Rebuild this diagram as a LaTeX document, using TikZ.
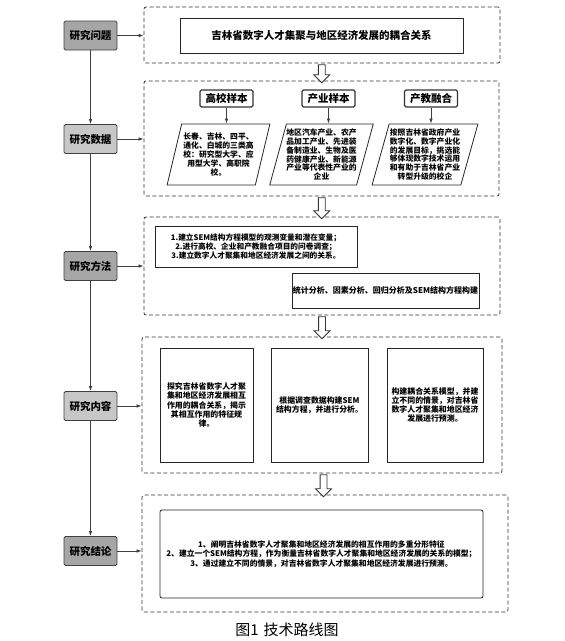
\documentclass[tikz,border=0pt]{standalone}
\usepackage{fontspec}
\setmainfont{Noto Sans CJK SC}
\usetikzlibrary{shapes.geometric,shapes.arrows,calc,arrows.meta}

\tikzset{
  stage/.style={rectangle, draw=black!75, line width=0.8pt, rounded corners=1.5pt, minimum width=53pt, minimum height=29pt, inner sep=0pt, font=\bfseries\fontsize{10.5}{12}\selectfont},
  stagedark/.style={stage, fill=black!35},
  stagelight/.style={stage, fill=black!22},
  group/.style={rectangle, draw=black!80, line width=0.8pt, dash pattern=on 4pt off 2.5pt, rounded corners=2pt},
  flow/.style={-{Latex[length=5pt,width=3.5pt]}, draw=black!75, line width=0.7pt},
  header/.style={rectangle, draw=black!80, line width=1.1pt, rounded corners=1.5pt, minimum width=53pt, minimum height=17pt, inner sep=0pt, font=\bfseries\fontsize{10.5}{12}\selectfont},
  sample/.style={trapezium, trapezium left angle=72, trapezium right angle=108, trapezium stretches=true, draw=black!85, line width=0.8pt, minimum height=61pt, align=center, inner sep=0pt, font=\bfseries\fontsize{7.8}{8.8}\selectfont},
  textbox/.style={rectangle, draw=black!85, line width=0.8pt, align=center, inner sep=0pt, font=\bfseries\fontsize{7.9}{9.2}\selectfont},
  hollow/.style={single arrow, draw=black!80, fill=white, line width=0.8pt, shape border rotate=270, inner sep=3pt, single arrow head extend=4.5pt, minimum width=15pt},
}

\begin{document}
\begin{tikzpicture}[x=1pt,y=-1pt]
\useasboundingbox (0,0) rectangle (565,641);

\node[stagedark] (s1) at (90.5,35.5) {研究问题};
\node[stagelight] (s2) at (90.5,139) {研究数据};
\node[stagedark] (s3) at (90.5,266) {研究方法};
\node[stagelight] (s4) at (90.5,406) {研究内容};
\node[stagedark] (s5) at (90.5,551) {研究结论};

\node[group, minimum width=356pt, minimum height=56pt] (g1) at (322,35) {};
\node[group, minimum width=355pt, minimum height=115pt] (g2) at (321.5,138.5) {};
\node[group, minimum width=356pt, minimum height=98pt] (g3) at (322,266) {};
\node[group, minimum width=360pt, minimum height=136pt] (g4) at (322,405) {};
\node[group, minimum width=366pt, minimum height=117pt] (g5) at (325,553.5) {};

\foreach \a/\b in {s1/s2,s2/s3,s3/s4,s4/s5}
  \draw[flow] (\a) -- (\b);
\foreach \i in {1,...,5}
  \draw[flow] (s\i.east) -- (s\i.east -| g\i.west);

\node[hollow, minimum height=18pt] (h1) at ($(g1.south)!.5!(g2.north)$) {};
\node[hollow, minimum height=21pt] (h2) at ($(g2.south)!.5!(g3.north)$) {};
\node[hollow, minimum height=22pt] (h3) at ($(g3.south)!.5!(g4.north)$) {};
\node[hollow, minimum height=22pt] (h4) at ($(g4.south)!.5!(g5.north)$) {};

\node[textbox, minimum width=283pt, minimum height=35pt, font=\bfseries\fontsize{10.5}{12}\selectfont] (topic) at (321.5,35.5) {吉林省数字人才集聚与地区经济发展的耦合关系};

\node[header] (hdA) at (226.5,98.5) {高校样本};
\node[header] (hdB) at (328.5,98.5) {产业样本};
\node[header] (hdC) at (431,98.5) {产教融合};
\node[sample, minimum width=103pt] (pA) at (218.5,154.5) {长春、吉林、四平、\\通化、白城的三类高\\校：研究型大学、应\\用型大学、高职院\\校。};
\node[sample, minimum width=103pt] (pB) at (321.5,154.5) {地区汽车产业、农产\\品加工产业、先进装\\备制造业、生物及医\\药健康产业、新能源\\产业等代表性产业的\\企业};
\node[sample, minimum width=106pt] (pC) at (425,154.5) {按照吉林省政府产业\\数字化、数字产业化\\的发展目标，挑选能\\够体现数字技术运用\\和有助于吉林省产业\\转型升级的校企};
\draw[flow] (hdA.south) -- (hdA.south |- pA.north);
\draw[flow] (hdB.south) -- (hdB.south |- pB.north);
\draw[flow] (hdC.south) -- (hdC.south |- pC.north);

\node[textbox, minimum width=202pt, minimum height=41pt, font=\bfseries\fontsize{7.7}{9}\selectfont] (steps) at (256,246.5) {1.建立SEM结构方程模型的观测变量和潜在变量；\\2.进行高校、企业和产教融合项目的问卷调查；\\3.建立数字人才聚集和地区经济发展之间的关系。};
\node[textbox, minimum width=187pt, minimum height=35pt, font=\bfseries\fontsize{8}{9}\selectfont] (tools) at (385.5,290.5) {统计分析、因素分析、回归分析及SEM结构方程构建};

\node[textbox, minimum width=93pt, minimum height=114pt] (cA) at (206.5,405) {探究吉林省数字人才聚\\集和地区经济发展相互\\作用的耦合关系，揭示\\其相互作用的特征规\\律。};
\node[textbox, minimum width=97pt, minimum height=114pt] (cB) at (319.5,405) {根据调查数据构建SEM\\结构方程，并进行分析。};
\node[textbox, minimum width=96pt, minimum height=114pt] (cC) at (435,405) {构建耦合关系模型，并建\\立不同的情景，对吉林省\\数字人才聚集和地区经济\\发展进行预测。};

\node[textbox, rounded corners=2pt, minimum width=323pt, minimum height=88pt, font=\bfseries\fontsize{7.8}{9.5}\selectfont] (result) at (321.5,554) {1、阐明吉林省数字人才聚集和地区经济发展的相互作用的多重分形特征\\2、建立一个SEM结构方程，作为衡量吉林省数字人才聚集和地区经济发展的关系的模型；\\3、通过建立不同的情景，对吉林省数字人才聚集和地区经济发展进行预测。};

\node[font=\fontsize{15}{17}\selectfont] (cap) at (287,630) {图1\hspace{5pt}技术路线图};
\end{tikzpicture}
\end{document}
